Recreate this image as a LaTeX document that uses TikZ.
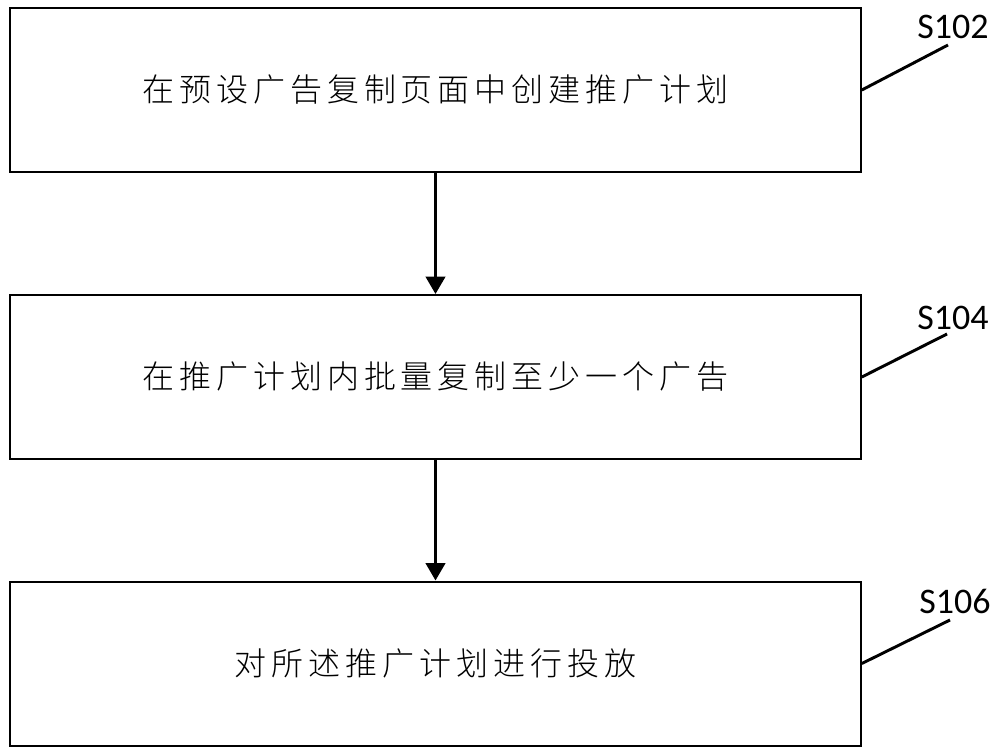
\documentclass[tikz,border=0pt]{standalone}
\usepackage{fontspec}
\newfontfamily\cjk[LetterSpace=15.5]{Noto Sans CJK SC Light}
\newfontfamily\lab{Carlito}
\usetikzlibrary{arrows.meta}
\begin{document}
\begin{tikzpicture}[x=0.75pt,y=-0.75pt,
  stepbox/.style={draw,line width=1.5pt,minimum width=638pt,minimum height=123pt,inner sep=0pt,font=\cjk\fontsize{24}{28}\selectfont},
  flow/.style={line width=2.2pt,-{Triangle[width=14.5pt,length=13pt]}},
  leader/.style={line width=2.2pt},
  steplabel/.style={font=\lab\fontsize{27}{30}\selectfont,inner sep=0pt}]
\useasboundingbox (0,0) rectangle (1000,753);
\node[stepbox] (b1) at (435.5,90) {在预设广告复制页面中创建推广计划};
\node[stepbox] (b2) at (435.5,377) {在推广计划内批量复制至少一个广告};
\node[stepbox] (b3) at (435.5,663.5) {对所述推广计划进行投放};
\draw[flow] (b1) -- (b2);
\draw[flow] (b2) -- (b3);
\coordinate (e1) at (948,45);
\coordinate (e2) at (947,334);
\coordinate (e3) at (950,620);
\draw[leader] (b1.east) -- (e1);
\draw[leader] (b2.east) -- (e2);
\draw[leader] (b3.east) -- (e3);
\node[steplabel] (l1) at (953,27) {S102};
\node[steplabel] (l2) at (953,318) {S104};
\node[steplabel] (l3) at (955,601.5) {S106};
\end{tikzpicture}
\end{document}
